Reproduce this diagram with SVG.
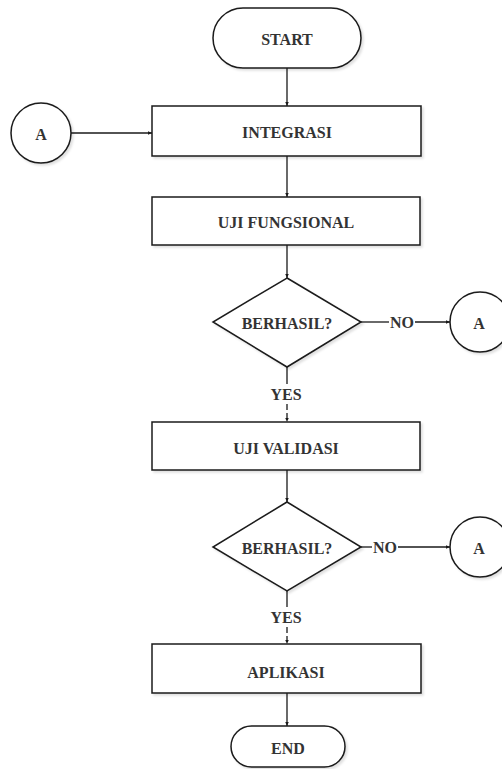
<svg xmlns="http://www.w3.org/2000/svg" width="502" height="769" viewBox="0 0 502 769">
<style>
.s{fill:#fff;stroke:#1a1a1a;stroke-width:1.5;filter:url(#sh)}
.t{font-family:"Liberation Serif","Times New Roman",serif;font-weight:bold;font-size:16px;fill:#333;text-anchor:middle;dominant-baseline:central}
.c{fill:none;stroke:#1a1a1a;stroke-width:1.3}
.d{stroke-dasharray:6 3}
</style>
<defs>
<filter id="sh" x="-10%" y="-10%" width="120%" height="130%">
<feDropShadow dx="2" dy="2" stdDeviation="0.8" flood-color="#000" flood-opacity="0.12"/>
</filter>
<marker id="ar" markerWidth="5" markerHeight="5" refX="4.5" refY="2.5" orient="auto" markerUnits="userSpaceOnUse">
<path d="M0,0.5 L4.5,2.5 L0,4.5 Z" fill="#1a1a1a"/>
</marker>
</defs>
<rect width="502" height="769" fill="#fff"/>
<g id="connectors">
<line class="c" x1="287" y1="68" x2="287" y2="106" marker-end="url(#ar)"/>
<line class="c" x1="71" y1="133" x2="152" y2="133" marker-end="url(#ar)"/>
<line class="c" x1="287" y1="156" x2="287" y2="197" marker-end="url(#ar)"/>
<line class="c" x1="287" y1="245" x2="287" y2="278" marker-end="url(#ar)"/>
<line class="c" x1="361" y1="322" x2="389" y2="322"/>
<line class="c" x1="415" y1="322" x2="450" y2="322" marker-end="url(#ar)"/>
<text class="t" x="402" y="322">NO</text>
<line class="c" x1="287" y1="367" x2="287" y2="384"/>
<text class="t" x="286" y="394">YES</text>
<line class="c d" x1="287" y1="404" x2="287" y2="422" marker-end="url(#ar)"/>
<line class="c" x1="287" y1="470" x2="287" y2="502" marker-end="url(#ar)"/>
<line class="c" x1="361" y1="547" x2="372" y2="547"/>
<line class="c" x1="398" y1="547" x2="450" y2="547" marker-end="url(#ar)"/>
<text class="t" x="385" y="547">NO</text>
<line class="c" x1="287" y1="591" x2="287" y2="607"/>
<text class="t" x="286" y="617">YES</text>
<line class="c d" x1="287" y1="627" x2="287" y2="644" marker-end="url(#ar)"/>
<line class="c" x1="287" y1="693" x2="287" y2="726" marker-end="url(#ar)"/>
</g>
<g id="start"><rect class="s" x="213" y="8" width="148" height="60" rx="30"/><text class="t" x="287" y="39">START</text></g>
<g id="a1"><circle class="s" cx="41" cy="133" r="30"/><text class="t" x="41" y="134">A</text></g>
<g id="integrasi"><rect class="s" x="152" y="106" width="269" height="50"/><text class="t" x="287" y="132">INTEGRASI</text></g>
<g id="ujifungsional"><rect class="s" x="152" y="197" width="268" height="48"/><text class="t" x="286" y="222">UJI FUNGSIONAL</text></g>
<g id="dec1"><polygon class="s" points="287,278 361,322 287,367 213,322"/><text class="t" x="287" y="323">BERHASIL?</text></g>
<g id="a2"><circle class="s" cx="480" cy="322" r="30"/><text class="t" x="479" y="323">A</text></g>
<g id="ujivalidasi"><rect class="s" x="152" y="422" width="268" height="48"/><text class="t" x="286" y="448">UJI VALIDASI</text></g>
<g id="dec2"><polygon class="s" points="287,502 361,547 287,591 213,547"/><text class="t" x="287" y="548">BERHASIL?</text></g>
<g id="a3"><circle class="s" cx="480" cy="547" r="30"/><text class="t" x="479" y="548">A</text></g>
<g id="aplikasi"><rect class="s" x="152" y="644" width="269" height="49"/><text class="t" x="286" y="672">APLIKASI</text></g>
<g id="end"><rect class="s" x="231" y="726" width="114" height="41" rx="20.5"/><text class="t" x="288" y="748">END</text></g>
</svg>
